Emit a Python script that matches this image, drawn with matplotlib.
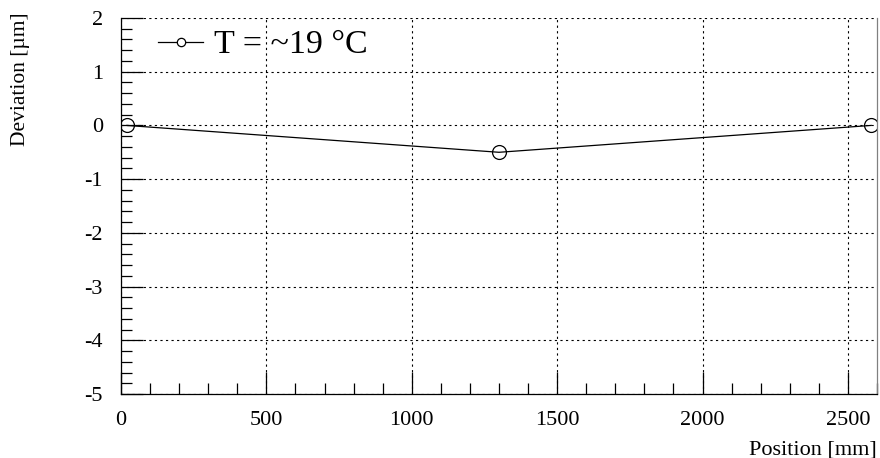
import matplotlib
matplotlib.use("Agg")
import matplotlib.pyplot as plt
from matplotlib.lines import Line2D
from matplotlib.ticker import MultipleLocator

plt.rcParams['font.family'] = ['Liberation Serif', 'DejaVu Serif']
plt.rcParams['axes.unicode_minus'] = False

positions = [20, 1300, 2580]
deviation = [0.0, -0.5, 0.0]
legend_label = "T = ~19 °C"
x_ticks = [0, 500, 1000, 1500, 2000, 2500]
y_ticks = [-5, -4, -3, -2, -1, 0, 1, 2]

W, H = 880, 458
fig = plt.figure(figsize=(8.8, 4.58), dpi=100)
ax = fig.add_axes([121/W, 1-394/H, (877-121)/W, (394-18)/H])

ax.plot(positions, deviation, color='black', lw=0.9, marker='o', ms=10,
        mfc='none', mec='black', mew=0.9)

ax.set_xlim(0, 2600)
ax.set_ylim(-5, 2)
ax.set_xticks(x_ticks)
ax.set_yticks(y_ticks)
ax.xaxis.set_minor_locator(MultipleLocator(100))
ax.yaxis.set_minor_locator(MultipleLocator(0.2))
ax.tick_params(which='both', direction='in', labelsize=16, top=False, right=False)
ax.tick_params(which='major', length=16, width=0.9)
ax.tick_params(which='minor', length=8, width=0.9)
ax.tick_params(axis='y', pad=13)
ax.tick_params(axis='x', pad=12)
ax.grid(True, which='major', color='black', linestyle=(0, (2, 3)), lw=0.8)
ax.spines['top'].set_visible(False)
ax.spines['right'].set_color('0.5')
for s in ax.spines.values():
    s.set_linewidth(0.9)

handle = Line2D([], [], color='black', lw=0.9, marker='o', ms=6, mfc='white', mec='black', mew=0.9)
ax.legend([handle], [legend_label], loc='center left', frameon=False, fontsize=24.5,
          handlelength=1.33, handletextpad=0.32, borderpad=0, borderaxespad=0,
          bbox_to_anchor=(158/W, 1-45/H), bbox_transform=fig.transFigure)

fig.text(877/W, 1-454/H, "Position [mm]", ha='right', va='baseline', fontsize=16)
fig.text(20/W, 1-12/H, "Deviation [µm]", ha='center', va='top', rotation=90, fontsize=15.5)

fig.savefig("out.png", dpi=100)
